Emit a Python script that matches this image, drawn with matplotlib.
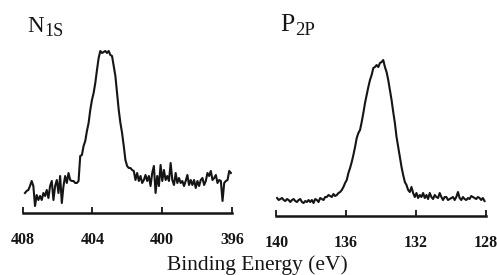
import numpy as np
import matplotlib
matplotlib.use("Agg")
import matplotlib.pyplot as plt

plt.rcParams['font.family'] = 'Liberation Serif'

# N 1s spectrum (intensity, arbitrary units), high -> low binding energy
n1s_start, n1s_end = 407.87, 396.06
n1s_counts = [20, 22, 23, 27, 32, 27, 7, 18, 13, 17, 13, 20, 17, 23, 15, 27, 32, 13, 27, 33,
              20, 37, 10, 27, 37, 30, 40, 33, 32, 32, 30, 30, 32, 57, 58, 67, 72, 82, 90, 103,
              113, 120, 130, 143, 155, 162, 160, 161, 162, 160, 162, 158, 157, 147, 137, 120, 103, 90, 80, 67,
              53, 47, 45, 45, 43, 42, 33, 40, 32, 37, 30, 33, 38, 32, 37, 27, 40, 47, 20, 37,
              27, 48, 32, 43, 33, 37, 32, 50, 33, 28, 40, 30, 35, 30, 32, 27, 32, 38, 28, 33,
              28, 33, 25, 32, 27, 33, 35, 28, 32, 40, 37, 42, 33, 35, 38, 30, 33, 32, 12, 30,
              32, 33, 42, 40]

# P 2p spectrum
p2p_start, p2p_end = 139.96, 128.06
p2p_counts = [18, 16, 17, 18, 16, 15, 17, 16, 14, 16, 17, 15, 14, 16, 17, 14, 13, 15, 14, 16,
              14, 16, 13, 17, 16, 14, 18, 17, 16, 19, 19, 21, 20, 19, 22, 20, 21, 23, 24, 26,
              29, 33, 36, 43, 48, 54, 61, 69, 78, 83, 86, 94, 103, 113, 121, 129, 136, 141, 148, 149,
              151, 149, 153, 154, 156, 149, 144, 136, 126, 116, 104, 93, 79, 69, 59, 49, 41, 34, 31, 26,
              24, 29, 23, 19, 23, 18, 21, 19, 23, 18, 21, 17, 23, 19, 17, 21, 19, 18, 23, 19,
              16, 19, 19, 16, 17, 18, 19, 16, 19, 24, 18, 16, 19, 17, 16, 18, 17, 20, 19, 18,
              17, 19, 18, 16, 18, 15]

n1s_energy = np.linspace(n1s_start, n1s_end, len(n1s_counts))
p2p_energy = np.linspace(p2p_start, p2p_end, len(p2p_counts))

# (x, y, limits, ticks, main letter, subscript, sizes)
panels = [
    (n1s_energy, n1s_counts, (408, 396), [408, 404, 400, 396], 'N', '1S', 16.5, 13),
    (p2p_energy, p2p_counts, (140, 128), [140, 136, 132, 128], 'P', '2P', 18.5, 13.5),
]
lefts = [0.0457, 0.556]
bottoms = [0.2255, 0.2145]
title_pos = [(0.055, 0.884), (0.563, 0.888)]

fig = plt.figure(figsize=(4.97, 2.75), dpi=100)
ink = '#151515'
for (e, c, lim, ticks, main, sub, fs, sfs), left, bottom, tp in zip(panels, lefts, bottoms, title_pos):
    ax = fig.add_axes([left, bottom, 0.421, 0.6545])
    ax.plot(e, c, color=ink, lw=1.5)
    ax.set_xlim(lim)
    ax.set_ylim(0, 180)
    ax.set_xticks(ticks)
    ax.tick_params(axis='x', direction='in', length=4, width=1.3, pad=13.5, colors=ink,
                   labelsize=11.5)
    for lab in ax.get_xticklabels():
        lab.set_fontweight('bold')
    ax.set_yticks([])
    for s in ['top', 'right', 'left']:
        ax.spines[s].set_visible(False)
    ax.spines['bottom'].set_linewidth(1.8)
    ax.spines['bottom'].set_color(ink)
    t = fig.text(tp[0], tp[1], main, fontsize=fs, color=ink, ha='left', va='baseline')
    ax.annotate(sub, xy=(1, 0), xycoords=t, xytext=(0.5, -2), textcoords='offset points',
                fontsize=sfs, color=ink, ha='left', va='bottom', annotation_clip=False)

fig.text(0.517, 0.018, 'Binding Energy (eV)', ha='center', va='baseline', fontsize=15.5, color=ink)

fig.savefig('out.png', dpi=100)
